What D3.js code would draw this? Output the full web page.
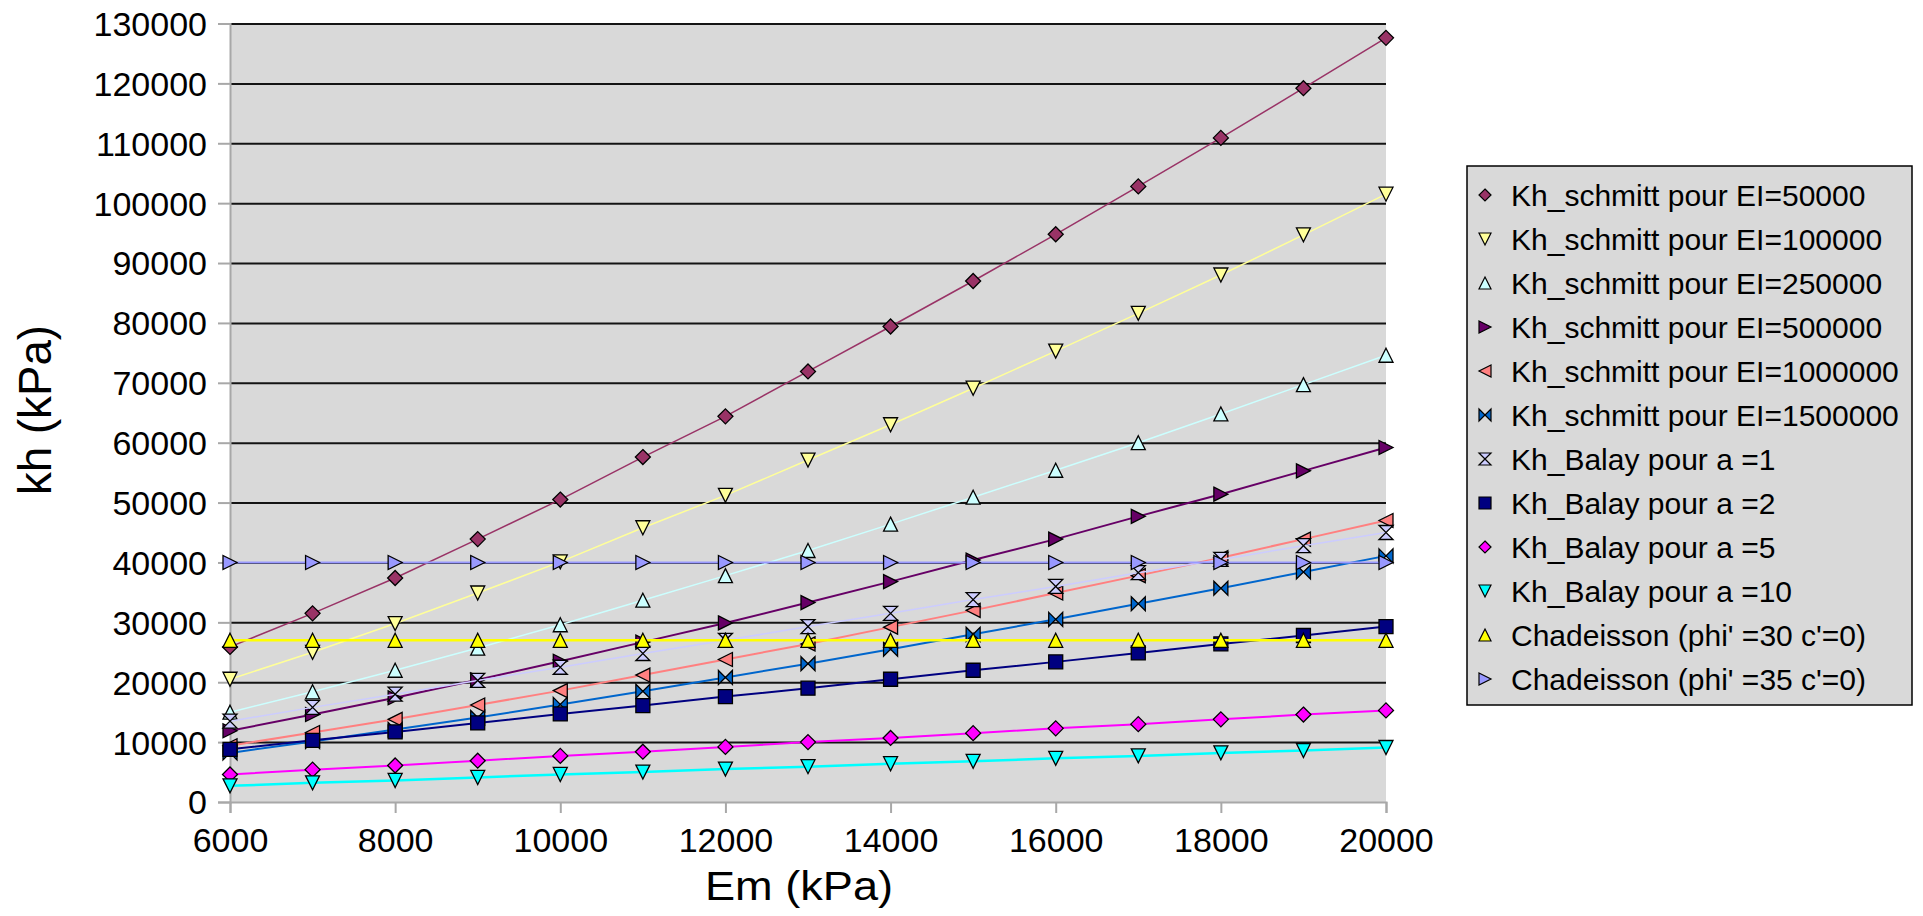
<!DOCTYPE html>
<html>
<head>
<meta charset="utf-8">
<script src="https://cdn.jsdelivr.net/npm/d3@7"></script>
<style>
  html, body { margin: 0; padding: 0; background: #fff; }
  svg { display: block; }
  text { font-family: "Liberation Sans", Arial, sans-serif; }
</style>
</head>
<body>
<svg id="chart" width="1923" height="916"></svg>
<script>
// ---------- data ----------
const emValues = [6000, 7000, 8000, 9000, 10000, 11000, 12000, 13000, 14000, 15000, 16000, 17000, 18000, 19000, 20000];

const seriesNames = [
  "Kh_schmitt pour EI=50000",
  "Kh_schmitt pour EI=100000",
  "Kh_schmitt pour EI=250000",
  "Kh_schmitt pour EI=500000",
  "Kh_schmitt pour EI=1000000",
  "Kh_schmitt pour EI=1500000",
  "Kh_Balay pour a =1",
  "Kh_Balay pour a =2",
  "Kh_Balay pour a =5",
  "Kh_Balay pour a =10",
  "Chadeisson (phi' =30 c'=0)",
  "Chadeisson (phi' =35 c'=0)"
];

const schmittEI50000   = [25900, 31500, 37400, 43900, 50500, 57600, 64400, 71900, 79400, 87000, 94800, 102800, 110900, 119200, 127600];
const schmittEI100000  = [20500, 25000, 29800, 34900, 40100, 45800, 51200, 57100, 63000, 69100, 75300, 81600, 88000, 94700, 101500];
const schmittEI250000  = [15000, 18400, 22000, 25700, 29600, 33700, 37800, 42000, 46400, 50900, 55400, 60000, 64800, 69700, 74600];
const schmittEI500000  = [11900, 14600, 17400, 20400, 23500, 26700, 29900, 33300, 36800, 40400, 43900, 47700, 51400, 55300, 59200];
const schmittEI1000000 = [9400, 11600, 13800, 16200, 18600, 21200, 23800, 26400, 29200, 32000, 34900, 37800, 40800, 43900, 47000];
const schmittEI1500000 = [8200, 10100, 12100, 14100, 16300, 18500, 20800, 23100, 25500, 28000, 30500, 33100, 35700, 38400, 41100];
const balayA1  = [13500, 15800, 18000, 20300, 22500, 24800, 27000, 29300, 31500, 33800, 36000, 38300, 40500, 42800, 45000];
const balayA2  = [8800, 10300, 11700, 13200, 14700, 16100, 17600, 19000, 20500, 22000, 23400, 24900, 26400, 27800, 29300];
const balayA5  = [4600, 5400, 6100, 6900, 7700, 8400, 9200, 10000, 10700, 11500, 12300, 13000, 13800, 14600, 15300];
const balayA10 = [2700, 3200, 3600, 4100, 4600, 5000, 5500, 5900, 6400, 6800, 7300, 7700, 8200, 8600, 9100];
const chadeisson30 = [27000, 27000, 27000, 27000, 27000, 27000, 27000, 27000, 27000, 27000, 27000, 27000, 27000, 27000, 27000];
const chadeisson35 = [40000, 40000, 40000, 40000, 40000, 40000, 40000, 40000, 40000, 40000, 40000, 40000, 40000, 40000, 40000];

const seriesValues = [schmittEI50000, schmittEI100000, schmittEI250000, schmittEI500000, schmittEI1000000, schmittEI1500000,
                      balayA1, balayA2, balayA5, balayA10, chadeisson30, chadeisson35];

const seriesColors = ["#993366", "#FFFF99", "#CCFFFF", "#660066", "#FF8080", "#0066CC",
                      "#CCCCFF", "#000080", "#FF00FF", "#00FFFF", "#FFFF00", "#9999FF"];
const seriesMarkers = ["diamond", "triDown", "triUp", "triRight", "triLeft", "bowtie",
                       "hourglass", "square", "diamond", "triDown", "triUp", "triRight"];
const seriesLineWidths = [1.5, 1.5, 1.5, 2, 2, 2, 1.5, 2, 2, 2.5, 2.5, 2];

const xTicks = [6000, 8000, 10000, 12000, 14000, 16000, 18000, 20000];
const yTicks = [0, 10000, 20000, 30000, 40000, 50000, 60000, 70000, 80000, 90000, 100000, 110000, 120000, 130000];

const xTitle = "Em (kPa)";
const yTitle = "kh (kPa)";

// ---------- layout ----------
const svg = d3.select("#chart");
const plotLeft = 230, plotRight = 1386, plotTop = 23.5, plotBottom = 802;

const x = d3.scaleLinear().domain([6000, 20000]).range([plotLeft, plotRight]);
const y = d3.scaleLinear().domain([0, 130000]).range([plotBottom, plotTop]);

// plot background
svg.append("rect")
  .attr("x", plotLeft).attr("y", plotTop)
  .attr("width", plotRight - plotLeft).attr("height", plotBottom - plotTop)
  .attr("fill", "#D9D9D9");

// gridlines
const grid = svg.append("g")
  .attr("transform", `translate(${plotLeft},0)`)
  .call(d3.axisLeft(y).tickValues(yTicks.filter(v => v > 0)).tickSize(-(plotRight - plotLeft)).tickFormat(""));
grid.select(".domain").remove();
grid.selectAll("line").attr("stroke", "#141414").attr("stroke-width", 2);

// y axis
const yAxis = svg.append("g")
  .attr("transform", `translate(${plotLeft},0)`)
  .call(d3.axisLeft(y).tickValues(yTicks).tickSize(12).tickPadding(11).tickFormat(d3.format("d")));
yAxis.select(".domain").attr("stroke", "#A8A8A8").attr("stroke-width", 2);
yAxis.selectAll(".tick line").attr("stroke", "#A8A8A8").attr("stroke-width", 2);
yAxis.selectAll("text")
  .attr("font-size", 34).attr("fill", "#000")
  .attr("font-family", "'Liberation Sans', Arial, sans-serif")
  .attr("dy", "0.35em");

// x axis
const xAxis = svg.append("g")
  .attr("transform", `translate(0,${plotBottom})`)
  .call(d3.axisBottom(x).tickValues(xTicks).tickSize(11).tickPadding(14.5).tickFormat(d3.format("d")));
xAxis.select(".domain").attr("stroke", "#A8A8A8").attr("stroke-width", 2);
xAxis.selectAll(".tick line").attr("stroke", "#A8A8A8").attr("stroke-width", 2);
xAxis.selectAll("text")
  .attr("font-size", 34).attr("fill", "#000")
  .attr("font-family", "'Liberation Sans', Arial, sans-serif");

// axis titles
svg.append("text")
  .attr("x", 799).attr("y", 900)
  .attr("text-anchor", "middle")
  .attr("font-size", 40)
  .attr("textLength", 188).attr("lengthAdjust", "spacingAndGlyphs")
  .text(xTitle);

svg.append("text")
  .attr("transform", "translate(51,410) rotate(-90)")
  .attr("text-anchor", "middle")
  .attr("font-size", 46)
  .attr("textLength", 170).attr("lengthAdjust", "spacingAndGlyphs")
  .text(yTitle);

// ---------- markers ----------
function markerPath(type, s) {
  switch (type) {
    case "diamond":   return `M0,${-s}L${s},0L0,${s}L${-s},0Z`;
    case "triUp":     return `M0,${-s}L${s},${s}L${-s},${s}Z`;
    case "triDown":   return `M${-s},${-s}L${s},${-s}L0,${s}Z`;
    case "triRight":  return `M${-s},${-s}L${s},0L${-s},${s}Z`;
    case "triLeft":   return `M${s},${-s}L${-s},0L${s},${s}Z`;
    case "bowtie":    return `M${-s},${-s}L${s},${s}L${s},${-s}L${-s},${s}Z`;
    case "hourglass": return `M${-s},${-s}L${s},${-s}L${-s},${s}L${s},${s}Z`;
    case "square":    return `M${-s},${-s}L${s},${-s}L${s},${s}L${-s},${s}Z`;
  }
}

// ---------- series ----------
const line = d3.line().x(d => x(d[0])).y(d => y(d[1]));
const plot = svg.append("g");

seriesValues.forEach((vals, i) => {
  const pts = emValues.map((e, j) => [e, vals[j]]);
  const g = plot.append("g");
  g.append("path")
    .datum(pts)
    .attr("d", line)
    .attr("fill", "none")
    .attr("stroke", seriesColors[i])
    .attr("stroke-width", seriesLineWidths[i]);
  g.selectAll("path.mk")
    .data(pts)
    .join("path")
    .attr("class", "mk")
    .attr("transform", d => `translate(${x(d[0])},${y(d[1])})`)
    .attr("d", markerPath(seriesMarkers[i], seriesMarkers[i] === "diamond" ? 7.5 : 7))
    .attr("fill", seriesColors[i])
    .attr("stroke", "#000")
    .attr("stroke-width", 1.3);
});

// ---------- legend ----------
const lg = svg.append("g");
lg.append("rect")
  .attr("x", 1467).attr("y", 166)
  .attr("width", 445).attr("height", 539)
  .attr("fill", "#D9D9D9")
  .attr("stroke", "#000").attr("stroke-width", 1.5);

seriesNames.forEach((name, i) => {
  const cy = 195 + i * 44;
  lg.append("path")
    .attr("transform", `translate(1485,${cy})`)
    .attr("d", markerPath(seriesMarkers[i], 6))
    .attr("fill", seriesColors[i])
    .attr("stroke", "#000").attr("stroke-width", 1.2);
  lg.append("text")
    .attr("x", 1511).attr("y", cy)
    .attr("dy", "0.36em")
    .attr("font-size", 30)
    .attr("fill", "#000")
    .text(name);
});
</script>
</body>
</html>
